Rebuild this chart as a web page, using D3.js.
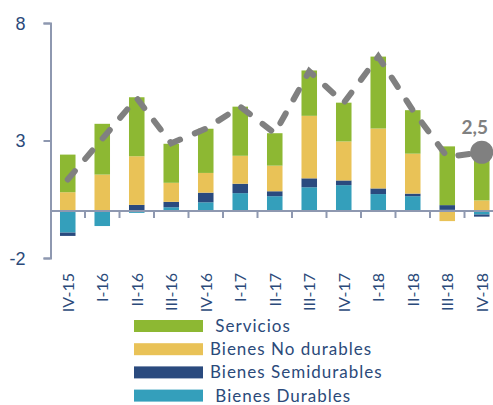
<!DOCTYPE html>
<html>
<head>
<meta charset="utf-8">
<script src="https://cdn.jsdelivr.net/npm/d3@7"></script>
<style>
  body { margin: 0; background: #fff; }
  svg { display: block; font-family: 'Lato', 'Open Sans', sans-serif; }
  .axis path, .axis line { stroke: #8e98b0; stroke-width: 2; }
  .axis text { fill: #2b4a7a; font-size: 18px; }
  .cat { fill: #2b4a7a; font-size: 16px; }
  .leg { fill: #2b4a7a; font-size: 17px; letter-spacing: 1px; white-space: pre; }
</style>
</head>
<body>
<script>
const quarters = ['IV-15', 'I-16', 'II-16', 'III-16', 'IV-16', 'I-17', 'II-17', 'III-17', 'IV-17', 'I-18', 'II-18', 'III-18', 'IV-18']

// contribuciones por componente
const durables     = [-0.92, -0.64, -0.08, 0.16, 0.37, 0.76, 0.63, 1.01, 1.10, 0.72, 0.63, 0.05, -0.15]
const semidurables = [-0.14, 0.00, 0.26, 0.23, 0.41, 0.40, 0.21, 0.38, 0.20, 0.24, 0.11, 0.20, -0.09]
const noDurables   = [0.80, 1.55, 2.07, 0.81, 0.84, 1.19, 1.09, 2.66, 1.66, 2.55, 1.70, -0.43, 0.45]
const servicios    = [1.60, 2.16, 2.51, 1.66, 1.88, 2.09, 1.38, 1.93, 1.65, 3.06, 1.85, 2.50, 2.29]

// total (linea punteada)
const total = [1.34, 3.07, 4.80, 2.88, 3.50, 4.44, 3.31, 5.95, 4.60, 6.57, 4.29, 2.30, 2.50]

const yTicks = [8, 3, -2]
const lastLabel = '2,5'

const keys = ['durables', 'semidurables', 'noDurables', 'servicios']
const colors = {
  servicios: '#8db833',
  noDurables: '#e9c257',
  semidurables: '#2a4a7e',
  durables: '#349fbb'
}
const legendKeys = ['servicios', 'noDurables', 'semidurables', 'durables']
const legendText = [' Servicios', 'Bienes No durables', 'Bienes Semidurables', ' Bienes Durables']

const width = 493
const height = 405

const rows = quarters.map((q, i) => ({
  q: q,
  durables: durables[i],
  semidurables: semidurables[i],
  noDurables: noDurables[i],
  servicios: servicios[i]
}))

const x = d3.scaleBand().domain(quarters).range([50.5, 499]).paddingInner(0.55).paddingOuter(0.275)
const y = d3.scaleLinear().domain([-2, 8]).range([258, 23])

const svg = d3.select('body').append('svg')
  .attr('width', width)
  .attr('height', height)

const stack = d3.stack().keys(keys).offset(d3.stackOffsetDiverging)
const layers = stack(rows)

svg.append('g')
  .selectAll('g')
  .data(layers)
  .join('g')
  .attr('fill', (d) => colors[d.key])
  .selectAll('rect')
  .data((d) => d)
  .join('rect')
  .attr('x', (d) => x(d.data.q))
  .attr('width', x.bandwidth())
  .attr('y', (d) => y(Math.max(d[0], d[1])))
  .attr('height', (d) => Math.abs(y(d[0]) - y(d[1])))

// eje x en cero
const xAxis = svg.append('g').attr('class', 'axis')
xAxis.append('line')
  .attr('x1', 50.5).attr('x2', width)
  .attr('y1', y(0)).attr('y2', y(0))
xAxis.selectAll('.tk')
  .data(quarters.slice(0, -1))
  .join('line')
  .attr('class', 'tk')
  .attr('x1', (d) => x(d) + x.bandwidth() + (x.step() - x.bandwidth()) / 2)
  .attr('x2', (d) => x(d) + x.bandwidth() + (x.step() - x.bandwidth()) / 2)
  .attr('y1', y(0))
  .attr('y2', y(0) + 7)

svg.append('g')
  .selectAll('text')
  .data(quarters)
  .join('text')
  .attr('class', 'cat')
  .attr('transform', (d) => `translate(${x(d) + x.bandwidth() / 2 + 6}, 273) rotate(-90)`)
  .style('text-anchor', 'end')
  .text((d) => d)

svg.append('g')
  .attr('class', 'axis')
  .attr('transform', 'translate(50.5,0)')
  .call(d3.axisLeft(y).tickValues(yTicks).tickSize(7).tickPadding(18).tickFormat((d) => String(d)))
  .call((g) => g.selectAll('text').attr('dy', '0.36em'))

// linea del total
const line = d3.line()
  .x((d, i) => x(quarters[i]) + x.bandwidth() / 2)
  .y((d) => y(d))

svg.append('path')
  .datum(total)
  .attr('d', line)
  .attr('fill', 'none')
  .attr('stroke', '#808080')
  .attr('stroke-width', 6)
  .attr('stroke-linecap', 'round')
  .attr('stroke-dasharray', '11,16')

const last = total.length - 1
svg.append('circle')
  .attr('cx', x(quarters[last]) + x.bandwidth() / 2)
  .attr('cy', y(total[last]))
  .attr('r', 11.5)
  .attr('fill', '#808080')

svg.append('text')
  .attr('x', x(quarters[last]) + x.bandwidth() / 2 - 7)
  .attr('y', y(total[last]) - 18)
  .style('text-anchor', 'middle')
  .style('font-size', '19px')
  .style('font-weight', 'bold')
  .attr('fill', '#808080')
  .text(lastLabel)

// leyenda
const legend = svg.append('g')
  .selectAll('g')
  .data(legendKeys)
  .join('g')
  .attr('transform', (d, i) => `translate(134, ${320 + i * 23.2})`)

legend.append('rect')
  .attr('width', 69)
  .attr('height', 12)
  .attr('fill', (d) => colors[d])

legend.append('text')
  .attr('class', 'leg')
  .attr('x', 76)
  .attr('y', 12)
  .text((d, i) => legendText[i])
</script>
</body>
</html>
